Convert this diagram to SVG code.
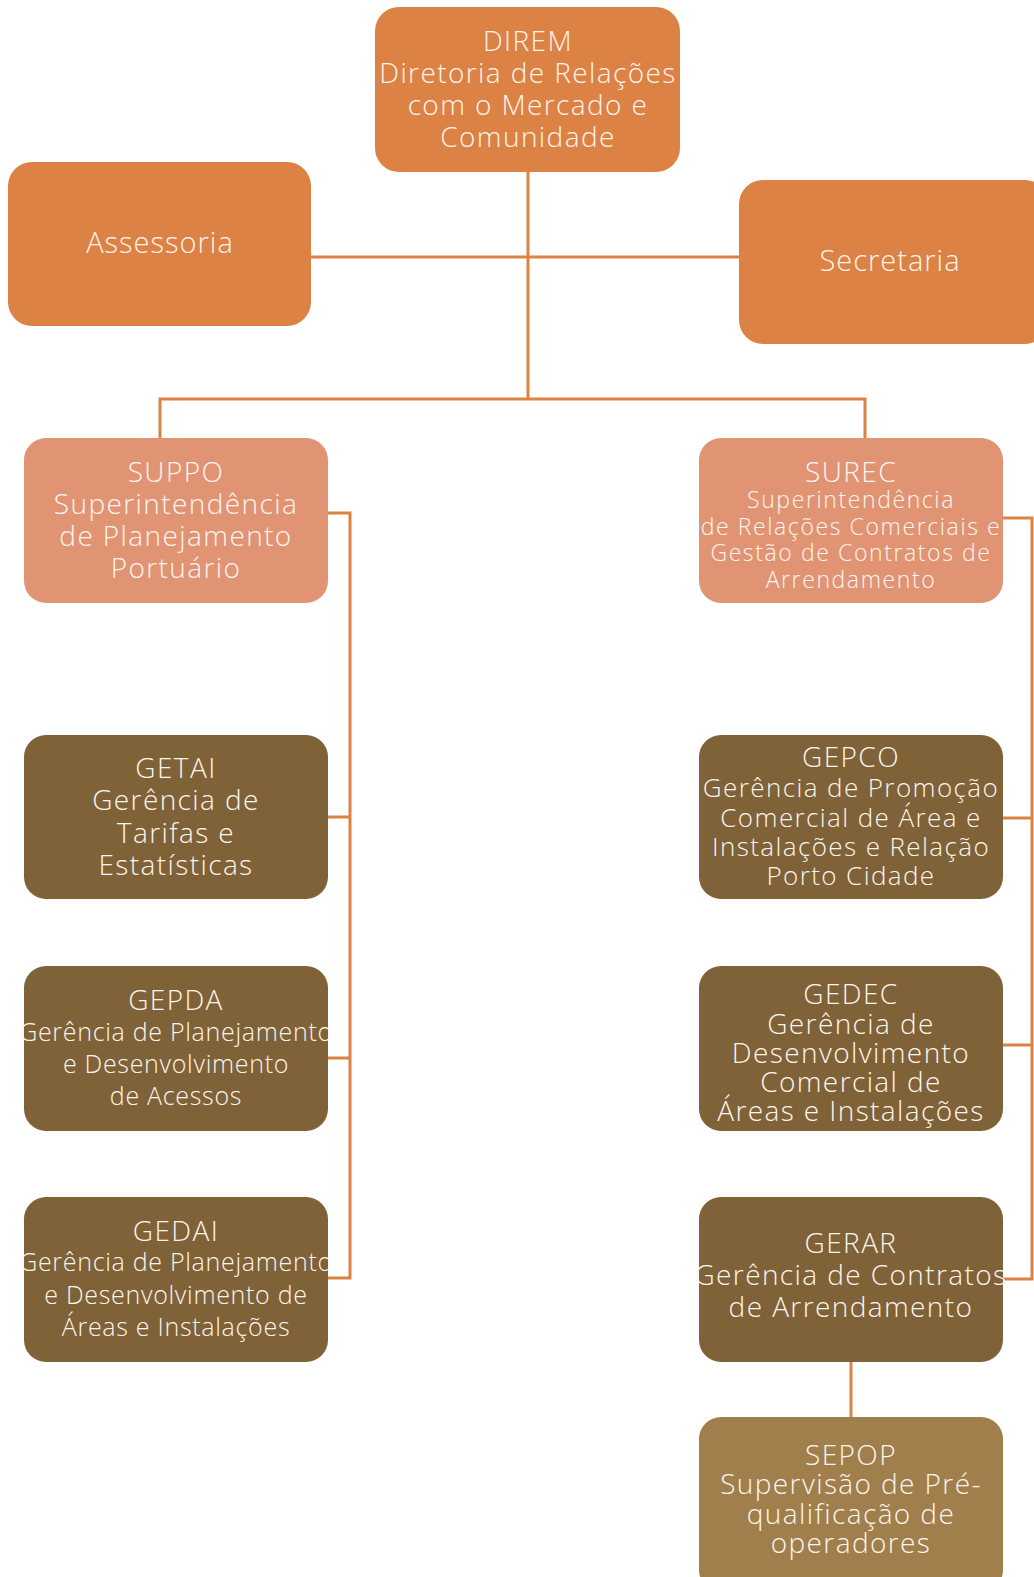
<svg xmlns="http://www.w3.org/2000/svg" width="1034" height="1577" viewBox="0 0 1034 1577">
<style>
.t{font-family:"Open Sans","Liberation Sans",sans-serif;font-weight:300;fill:#FCF4EE;text-anchor:middle;letter-spacing:1.4px}
.n{letter-spacing:1px}
.r{letter-spacing:1.6px}
.g{letter-spacing:0.7px}
.o{fill:#DC8244}
.s{fill:#E09474}
.b{fill:#7F6237}
.p{fill:#A07F4C}
.c{stroke:#DC8244;stroke-width:3;fill:none}
</style>
<rect width="1034" height="1577" fill="#FFFFFF"/>
<g id="connectors">
<path class="c" d="M528 172V399"/>
<path class="c" d="M311 257H739"/>
<path class="c" d="M160 438V399H865V438"/>
<path class="c" d="M328 513H350V1278H328"/>
<path class="c" d="M328 817H350M328 1058H350"/>
<path class="c" d="M1003 518H1032V1279H1003"/>
<path class="c" d="M1003 818H1032M1003 1045H1032"/>
<path class="c" d="M851 1362V1417"/>
</g>
<g id="direm"><rect class="o" x="375" y="7" width="305" height="165" rx="24"/>
<text class="t" font-size="28" x="528"><tspan x="528" y="51">DIREM</tspan><tspan x="528" y="83">Diretoria de Relações</tspan><tspan x="528" y="115">com o Mercado e</tspan><tspan x="528" y="147">Comunidade</tspan></text></g>
<g id="assessoria"><rect class="o" x="8" y="162" width="303" height="164" rx="24"/>
<text class="t n" font-size="29" x="160" y="253">Assessoria</text></g>
<g id="secretaria"><rect class="o" x="739" y="180" width="310" height="164" rx="24"/>
<text class="t n" font-size="29" x="890" y="271">Secretaria</text></g>
<g id="suppo"><rect class="s" x="24" y="438" width="304" height="165" rx="22"/>
<text class="t" font-size="28"><tspan x="176" y="482">SUPPO</tspan><tspan x="176" y="514">Superintendência</tspan><tspan x="176" y="546">de Planejamento</tspan><tspan x="176" y="578">Portuário</tspan></text></g>
<g id="surec"><rect class="s" x="699" y="438" width="304" height="165" rx="22"/>
<text class="t" font-size="28" x="851" y="482">SUREC</text>
<text class="t r" font-size="23"><tspan x="851" y="508">Superintendência</tspan><tspan x="851" y="535">de Relações Comerciais e</tspan><tspan x="851" y="561">Gestão de Contratos de</tspan><tspan x="851" y="588">Arrendamento</tspan></text></g>
<g id="getai"><rect class="b" x="24" y="735" width="304" height="164" rx="22"/>
<text class="t" font-size="28"><tspan x="176" y="778">GETAI</tspan><tspan x="176" y="810">Gerência de</tspan><tspan x="176" y="843">Tarifas e</tspan><tspan x="176" y="875">Estatísticas</tspan></text></g>
<g id="gepda"><rect class="b" x="24" y="966" width="304" height="165" rx="22"/>
<text class="t" font-size="28" x="176" y="1010">GEPDA</text>
<text class="t g" font-size="25"><tspan x="176" y="1041">Gerência de Planejamento</tspan><tspan x="176" y="1073">e Desenvolvimento</tspan><tspan x="176" y="1105">de Acessos</tspan></text></g>
<g id="gedai"><rect class="b" x="24" y="1197" width="304" height="165" rx="22"/>
<text class="t" font-size="28" x="176" y="1241">GEDAI</text>
<text class="t g" font-size="25"><tspan x="176" y="1271">Gerência de Planejamento</tspan><tspan x="176" y="1304">e Desenvolvimento de</tspan><tspan x="176" y="1336">Áreas e Instalações</tspan></text></g>
<g id="gepco"><rect class="b" x="699" y="735" width="304" height="164" rx="22"/>
<text class="t" font-size="28" x="851" y="767">GEPCO</text>
<text class="t" font-size="26"><tspan x="851" y="797">Gerência de Promoção</tspan><tspan x="851" y="827">Comercial de Área e</tspan><tspan x="851" y="856">Instalações e Relação</tspan><tspan x="851" y="885">Porto Cidade</tspan></text></g>
<g id="gedec"><rect class="b" x="699" y="966" width="304" height="165" rx="22"/>
<text class="t" font-size="28"><tspan x="851" y="1004">GEDEC</tspan><tspan x="851" y="1034">Gerência de</tspan><tspan x="851" y="1063">Desenvolvimento</tspan><tspan x="851" y="1092">Comercial de</tspan><tspan x="851" y="1121">Áreas e Instalações</tspan></text></g>
<g id="gerar"><rect class="b" x="699" y="1197" width="304" height="165" rx="22"/>
<text class="t" font-size="28"><tspan x="851" y="1253">GERAR</tspan><tspan x="851" y="1285">Gerência de Contratos</tspan><tspan x="851" y="1317">de Arrendamento</tspan></text></g>
<g id="sepop"><rect class="p" x="699" y="1417" width="304" height="175" rx="22"/>
<text class="t" font-size="28"><tspan x="851" y="1465">SEPOP</tspan><tspan x="851" y="1494">Supervisão de Pré-</tspan><tspan x="851" y="1524">qualificação de</tspan><tspan x="851" y="1553">operadores</tspan></text></g>
</svg>
